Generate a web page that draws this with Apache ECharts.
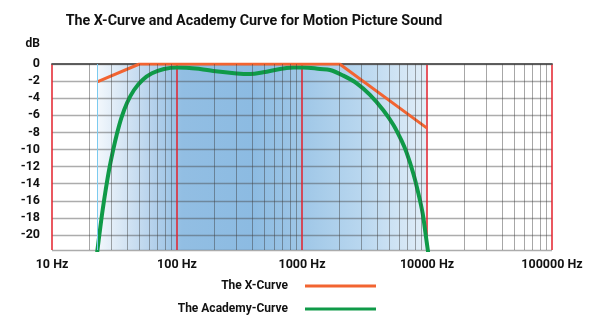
<!DOCTYPE html>
<html>
<head>
<meta charset="utf-8">
<script src="https://cdn.jsdelivr.net/npm/echarts@6/dist/echarts.min.js"></script>
<style>html,body{margin:0;padding:0;background:#fff}#c{width:600px;height:328px}</style>
</head>
<body>
<div id="c"></div>
<script>
var titleText = 'The X-Curve and Academy Curve for Motion Picture Sound';
var yName = 'dB';
var seriesNames = ['The X-Curve', 'The Academy-Curve'];
// X-curve: [frequency Hz, level dB]
var xCurve = [[23, -2.1], [50, 0], [2000, 0], [10000, -7.5]];
// Academy curve: [frequency Hz, level dB]
var academyCurve = [
  [22.4, -23.5], [23.1, -21.75], [24.2, -19.4], [25.4, -17.1], [26.9, -14.7],
  [28.6, -12.4], [30.8, -10.1], [32.9, -8.3], [35.9, -6.3], [39.8, -4.56],
  [45.3, -3.04], [53.0, -1.87], [63.1, -1.09], [78.7, -0.58], [100, -0.4],
  [153, -0.58], [195, -0.82], [300, -1.1], [384, -1.17], [490, -0.97],
  [667, -0.58], [852, -0.42], [1024, -0.4], [1393, -0.58], [1675, -0.7],
  [2140, -1.36], [2739, -2.26], [3499, -3.6], [4472, -5.4], [5376, -7.1],
  [6274, -9.0], [6880, -10.4], [7770, -12.8], [8520, -15.1], [9240, -17.5],
  [9727, -19.8], [10150, -21.75], [10530, -23.5]
];
// minor log grid lines (Hz)
var minorFreqs = [20,30,40,50,60,70,80,90,200,300,400,500,600,700,800,900,
  2000,3000,4000,5000,6000,7000,8000,9000,20000,30000,40000,50000,60000,70000,80000,90000];
var bandStart = 23;   // start of the shaded band (Hz)

var FONT = 'Roboto, "Liberation Sans", sans-serif';
var chart = echarts.init(document.getElementById('c'), null, {renderer: 'canvas'});

var markData = minorFreqs.map(function (v) { return {xAxis: v}; });
markData.push({xAxis: bandStart, lineStyle: {color: '#7ccbef', width: 1}});

function legendCfg(name, top) {
  return {
    data: [name], right: 224, top: top, align: 'right', icon: 'rect', padding: 0,
    itemWidth: 71, itemHeight: 3, selectedMode: false,
    textStyle: {fontFamily: FONT, fontWeight: 'bold', fontSize: 12, color: '#111', padding: [0, 12, 0, 0]}
  };
}

var option = {
  animation: false,
  title: {
    text: titleText, left: 249, top: 9, textAlign: 'center',
    textStyle: {fontFamily: FONT, fontWeight: 'bold', fontSize: 14.3, color: '#111'}
  },
  legend: [legendCfg(seriesNames[0], 280), legendCfg(seriesNames[1], 303)],
  grid: {
    left: 52, right: 48, top: 64, bottom: 78, show: true, borderWidth: 0,
    backgroundColor: new echarts.graphic.LinearGradient(0, 0, 1, 0, [
      {offset: 0, color: '#ffffff'},
      {offset: 0.09, color: '#ffffff'},
      {offset: 0.092, color: '#f2f7fc'},
      {offset: 0.2, color: '#b6d2ec'},
      {offset: 0.26, color: '#92bee3'},
      {offset: 0.4, color: '#8cbbe2'},
      {offset: 0.5, color: '#9fc7e7'},
      {offset: 0.62, color: '#b9d7ef'},
      {offset: 0.748, color: '#e2eef8'},
      {offset: 0.752, color: '#ffffff'},
      {offset: 1, color: '#ffffff'}
    ])
  },
  xAxis: [{
    type: 'log', logBase: 10, min: 10, max: 100000,
    axisLine: {show: true, lineStyle: {color: '#555', width: 1.5}},
    axisTick: {show: false},
    axisLabel: {
      margin: 8, showMinLabel: true, showMaxLabel: true,
      fontFamily: FONT, fontWeight: 'bold', fontSize: 12.5, color: '#111',
      formatter: function (v) { return Math.round(v) + ' Hz'; }
    },
    splitLine: {show: true, lineStyle: {color: '#e3202b', width: 1.5}}
  }, {
    type: 'log', logBase: 10, min: 10, max: 100000, position: 'top',
    axisLine: {show: true, lineStyle: {color: '#555', width: 1.5}},
    axisTick: {show: false}, axisLabel: {show: false}, splitLine: {show: false}
  }],
  yAxis: {
    type: 'value', min: -21.75, max: 0, splitNumber: 11, minInterval: 2, maxInterval: 2,
    name: yName, nameLocation: 'end', nameGap: 14,
    nameTextStyle: {fontFamily: FONT, fontWeight: 'bold', fontSize: 12, color: '#111', align: 'right', padding: [0, 12, 0, 0]},
    axisLine: {show: false}, axisTick: {show: false},
    axisLabel: {margin: 12, showMinLabel: false, fontFamily: FONT, fontWeight: 'bold', fontSize: 12.5, color: '#111'},
    splitLine: {show: true, lineStyle: {color: 'rgba(70,70,70,0.45)', width: 1.3}}
  },
  series: [
    {
      type: 'line', name: 'grid', data: [], z: 1, silent: true,
      markLine: {
        silent: true, symbol: ['none', 'none'], label: {show: false}, animation: false,
        lineStyle: {color: 'rgba(60,60,60,0.45)', width: 1, type: 'solid'},
        emphasis: {disabled: true},
        data: markData
      }
    },
    {
      type: 'line', name: seriesNames[0], data: xCurve, showSymbol: false, symbol: 'none',
      z: 4, lineStyle: {color: '#f26431', width: 3}, itemStyle: {color: '#f26431'}
    },
    {
      type: 'line', name: seriesNames[1], data: academyCurve, showSymbol: false, symbol: 'none',
      smooth: 0.35, z: 3, lineStyle: {color: '#0f9a48', width: 4}, itemStyle: {color: '#0f9a48'}
    }
  ]
};
chart.setOption(option);
</script>
</body>
</html>
